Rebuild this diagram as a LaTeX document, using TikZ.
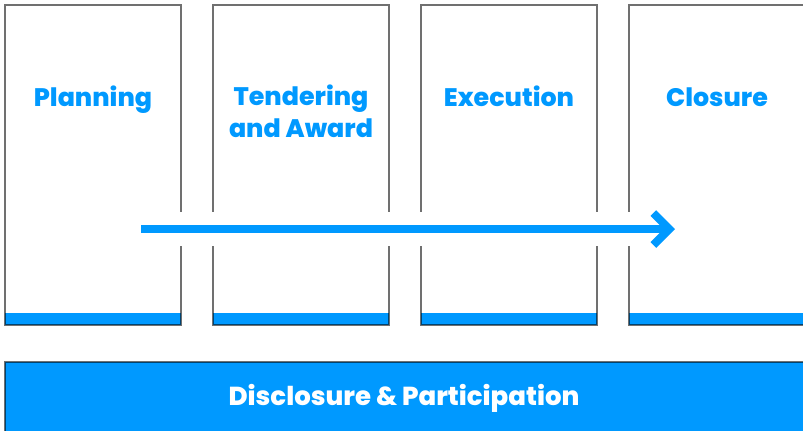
\documentclass[tikz,border=0pt]{standalone}
\usepackage{fontspec}
\setmainfont{Poppins}[BoldFont={Poppins ExtraBold}]
\usepackage{tikz}
\usetikzlibrary{positioning}
\usetikzlibrary{arrows.meta}

\definecolor{stageblue}{HTML}{0099FF}

\begin{document}
\begin{tikzpicture}[x=0.75pt, y=-0.75pt,
  phasebox/.style={rectangle, draw=black, draw opacity=0.56, line width=1.1pt,
    minimum width=132pt, minimum height=240pt,
    path picture={\fill [stageblue] (path picture bounding box.south west)
      rectangle ([yshift=9pt]path picture bounding box.south east);}},
  phasetitle/.style={inner sep=0pt, align=center, text=stageblue,
    font=\bfseries\fontsize{19}{23.6}\selectfont, execute at begin node=\strut},
  basebar/.style={rectangle, draw=black, draw opacity=0.56, line width=1.1pt,
    fill=stageblue, minimum width=603pt, minimum height=57pt},
  bartitle/.style={inner sep=0pt, text=white, font=\bfseries\fontsize{19.5}{22}\selectfont},
  halo/.style={draw=white, line width=26pt},
  flow/.style={draw=stageblue, line width=6pt, -{Straight Barb[sharp, length=12pt, width=24pt]}}]
\useasboundingbox (0,0) rectangle (803,430);

% stages
\node [phasebox] (plan) at (93,165) {};
\node [phasebox] (tender) at (301,165) {};
\node [phasebox] (exec) at (509,165) {};
\node [phasebox] (close) at (717,165) {};

\node [phasetitle, below=60.3pt of plan.north] (planT) {Planning};
\node [phasetitle, below=60.3pt of tender.north] (tenderT) {Tendering\\and Award};
\node [phasetitle, below=60.3pt of exec.north] (execT) {Execution};
\node [phasetitle, below=60.3pt of close.north] (closeT) {Closure};

% bottom bar
\node [basebar] (disc) at (407,400) {};
\node [bartitle, anchor=base] (discT) at (404,405) {Disclosure \& Participation};

% flow arrow
\coordinate (start) at (141,229);
\coordinate (stop) at (675,229);
\draw [halo] (start) -- (stop);
\draw [flow] (start) -- (stop);
\end{tikzpicture}
\end{document}
